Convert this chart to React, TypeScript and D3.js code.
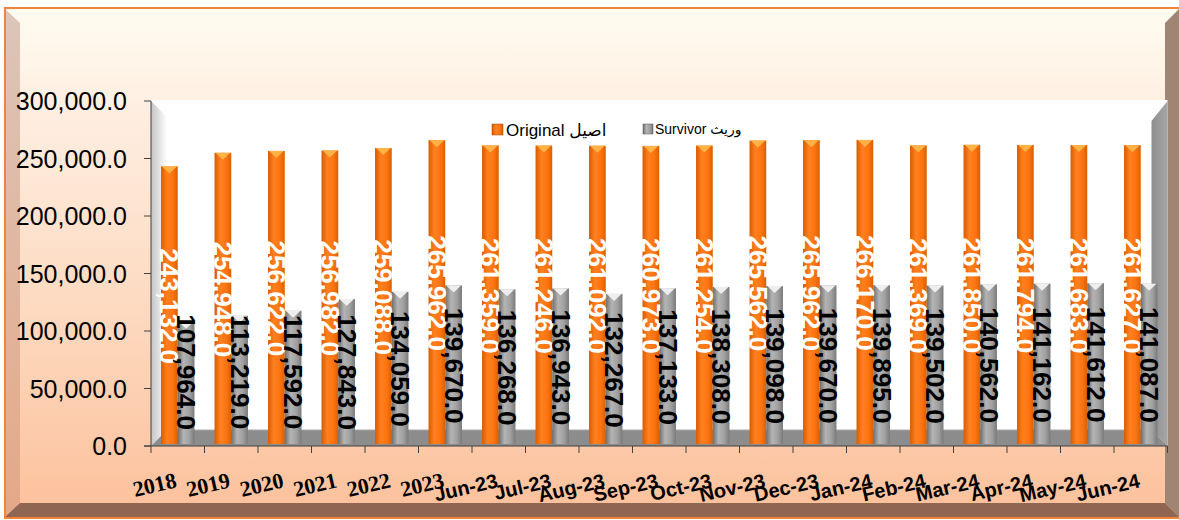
import React from "react";
import * as d3 from "d3";

const W = 1179;
const H = 520;

const categories = ["2018", "2019", "2020", "2021", "2022", "2023", "Jun-23", "Jul-23", "Aug-23", "Sep-23", "Oct-23", "Nov-23", "Dec-23", "Jan-24", "Feb-24", "Mar-24", "Apr-24", "May-24", "Jun-24"];
const original = [243132, 254948, 256622, 256982, 259088, 265962, 261359, 261246, 261092, 260973, 261254, 265562, 265962, 266170, 261369, 261850, 261794, 261683, 261627];
const survivor = [107964, 113219, 117592, 127843, 134059, 139670, 136268, 136943, 132267, 137133, 138308, 139098, 139670, 139895, 139502, 140562, 141162, 141612, 141087];
const yTicks = [0, 50000, 100000, 150000, 200000, 250000, 300000];
const seriesKeys = ["original", "survivor"];
const seriesNames = ["Original اصيل", "Survivor وريث"];

const fmt = d3.format(",.1f");
const sans = "Arial, 'Liberation Sans', 'DejaVu Sans', sans-serif";
const serif = "'Times New Roman', 'Liberation Serif', serif";

const plot = { left: 151, right: 1167.5, top: 101, bottom: 446 };
const depth = 16;

export default function App() {
    const x = d3.scaleBand<string>().domain(categories).range([plot.left, plot.right]);
    const xs = d3.scaleBand<string>().domain(seriesKeys).range([0, x.bandwidth()]).paddingOuter(0.6);
    const y = d3.scaleLinear().domain([0, 300000]).range([plot.bottom, plot.top]);
    const bw = xs.bandwidth();
    const floorY = plot.bottom - depth;

    const series = [
        { key: "original", values: original, fill: "url(#gOrange)", cap: "#ffb347", text: "#ffffff" },
        { key: "survivor", values: survivor, fill: "url(#gGray)", cap: "#eeeeee", text: "#000000" },
    ];

    return (
        <svg width={W} height={H} style={{ position: "absolute", left: 0, top: 0 }}>
            <defs>
                <linearGradient id="gBg" x1="0" y1="0" x2="0" y2="1">
                    <stop offset="0" stopColor="#fffcf0" />
                    <stop offset="0.2" stopColor="#feeee1" />
                    <stop offset="0.6" stopColor="#fdd9bf" />
                    <stop offset="1" stopColor="#fcc09b" />
                </linearGradient>
                <linearGradient id="gLeftBevel" x1="0" y1="0" x2="0" y2="1">
                    <stop offset="0" stopColor="#dcc5b8" />
                    <stop offset="1" stopColor="#e4a888" />
                </linearGradient>
                <linearGradient id="gOrange" x1="0" y1="0" x2="1" y2="0">
                    <stop offset="0" stopColor="#d85c00" />
                    <stop offset="0.35" stopColor="#ff8020" />
                    <stop offset="0.7" stopColor="#ff7410" />
                    <stop offset="1" stopColor="#d96000" />
                </linearGradient>
                <linearGradient id="gGray" x1="0" y1="0" x2="1" y2="0">
                    <stop offset="0" stopColor="#6e6e6e" />
                    <stop offset="0.35" stopColor="#b4b4b4" />
                    <stop offset="0.7" stopColor="#a0a0a0" />
                    <stop offset="1" stopColor="#7a7a7a" />
                </linearGradient>
                <linearGradient id="gLeftWall" x1="0" y1="0" x2="1" y2="0">
                    <stop offset="0" stopColor="#c4c4c4" />
                    <stop offset="1" stopColor="#ffffff" />
                </linearGradient>
                <linearGradient id="gRightWall" x1="0" y1="0" x2="1" y2="0">
                    <stop offset="0" stopColor="#8e8e8e" />
                    <stop offset="1" stopColor="#a6a6a6" />
                </linearGradient>
            </defs>

            {/* frame */}
            <rect x={5} y={8} width={W - 5} height={510} fill="url(#gBg)" />
            <polygon points={`5,9 20,23 1165,23 1179,9`} fill="#fffaee" opacity={0.8} />
            <polygon points={`5,9 20,23 20,503 5,517`} fill="url(#gLeftBevel)" />
            <polygon points={`1179,9 1165,23 1165,503 1179,517`} fill="#a08474" />
            <polygon points={`5,517 20,503 1165,503 1179,517`} fill="#8e6652" />
            <rect x={5} y={8} width={W - 4} height={510} fill="none" stroke="#f0843a" strokeWidth={2} />

            {/* 3d walls */}
            <rect x={plot.left} y={100} width={plot.right - plot.left} height={plot.bottom - 100} fill="#ffffff" />
            <polygon points={`${plot.left},${plot.top} ${plot.left + depth},${plot.top + depth} ${plot.left + depth},${floorY} ${plot.left},${plot.bottom}`} fill="url(#gLeftWall)" />
            <polygon points={`${plot.right - depth},${plot.top + 20} ${plot.right},${plot.top} ${plot.right},${plot.bottom} ${plot.right - depth},${floorY}`} fill="url(#gRightWall)" />
            <polygon points={`${plot.left},${plot.bottom} ${plot.left + depth},${floorY} ${plot.right - depth},${floorY} ${plot.right},${plot.bottom}`} fill="#8c8c8c" />
            <line x1={plot.left + depth} x2={plot.right - depth} y1={floorY} y2={floorY} stroke="#a8a8a8" />

            {/* bars */}
            {categories.map((c, i) => (
                <g key={c}>
                    {series.map(s => {
                        const bx = (x(c) as number) + (xs(s.key) as number);
                        const top = y(s.values[i]);
                        return (
                            <g key={s.key}>
                                <rect x={bx} y={top} width={bw} height={plot.bottom - 2 - top} fill={s.fill} />
                                <polygon points={`${bx + 1},${top} ${bx + bw - 1},${top} ${bx + bw / 2},${top + 7}`} fill={s.cap} />
                            </g>
                        );
                    })}
                </g>
            ))}

            {/* value labels */}
            {categories.map((c, i) => (
                <g key={c} fontFamily={sans} fontWeight="bold" fontSize={26}>
                    {series.map(s => {
                        const cx = (x(c) as number) + (xs(s.key) as number) + bw / 2;
                        let cy = (y(s.values[i]) + y(0)) / 2;
                        if (s.key === "survivor") cy = Math.min(cy, floorY - 58);
                        return (
                            <text key={s.key} transform={`translate(${cx},${cy}) rotate(90)`} textAnchor="middle"
                                dominantBaseline="central" fill={s.text}>{fmt(s.values[i])}</text>
                        );
                    })}
                </g>
            ))}

            {/* y axis */}
            <line x1={plot.left} x2={plot.left} y1={plot.top} y2={plot.bottom} stroke="#404040" />
            {yTicks.map(t => (
                <g key={t} transform={`translate(0,${y(t)})`}>
                    <line x1={plot.left - 7} x2={plot.left} stroke="#404040" />
                    <text x={127} textAnchor="end" dominantBaseline="central" fontFamily={sans} fontSize={25} fill="#000">{fmt(t)}</text>
                </g>
            ))}

            {/* x axis */}
            <line x1={plot.left - 7} x2={plot.right} y1={plot.bottom} y2={plot.bottom} stroke="#404040" />
            {[...categories.map(c => x(c) as number), plot.right].map((t, i) => (
                <line key={i} x1={t} x2={t} y1={plot.bottom} y2={plot.bottom + 7} stroke="#404040" />
            ))}
            {categories.map(c => {
                const isYear = /^\d{4}$/.test(c);
                return (
                    <text key={c} transform={`translate(${(x(c) as number) + x.bandwidth() / 2},487) rotate(-13)`} textAnchor="end"
                        fontFamily={isYear ? serif : sans} fontWeight="bold" fontSize={isYear ? 22 : 20} fill="#000">{c}</text>
                );
            })}

            {/* legend */}
            <g fontFamily={sans}>
                <rect x={492} y={124} width={11} height={11} fill="url(#gOrange)" stroke="#a04800" strokeWidth={0.5} />
                <text x={506} y={136} fontSize={17} fill="#000">{seriesNames[0]}</text>
                <rect x={643} y={124} width={10} height={10} fill="url(#gGray)" stroke="#555" strokeWidth={0.5} />
                <text x={655} y={134} fontSize={14} fill="#000">{seriesNames[1]}</text>
            </g>
        </svg>
    );
}
